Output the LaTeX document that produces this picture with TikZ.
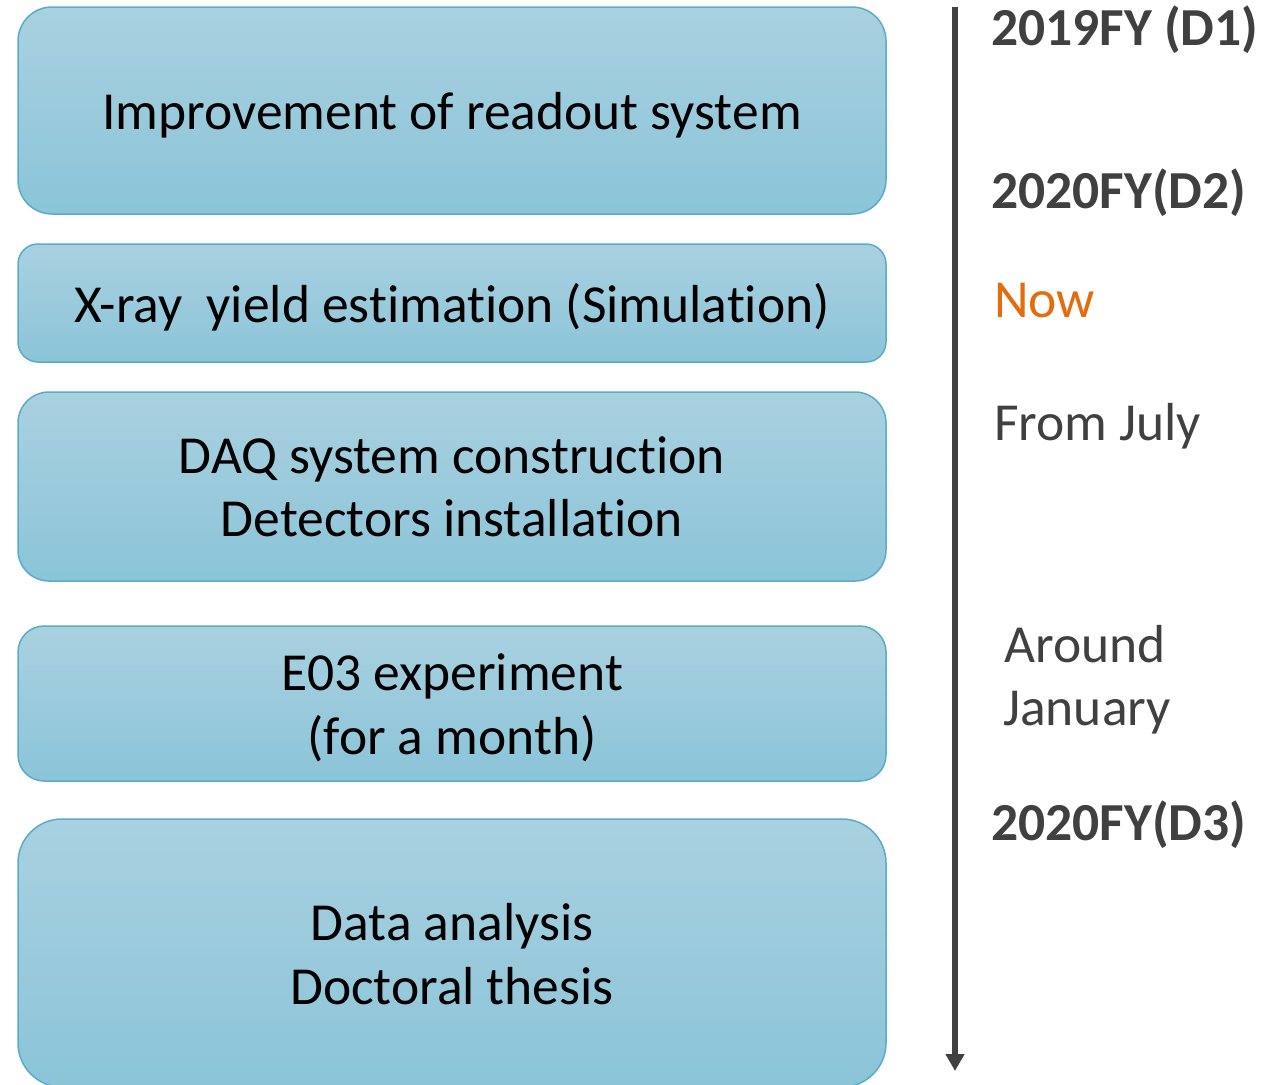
\documentclass[tikz,border=0pt]{standalone}
\usepackage{fontspec}
\setmainfont{Carlito}[Ligatures=NoCommon]
\usetikzlibrary{arrows.meta}
\definecolor{boxtop}{RGB}{169,209,224}
\definecolor{boxbot}{RGB}{139,196,216}
\definecolor{boxline}{RGB}{90,172,202}
\definecolor{tlgray}{RGB}{64,64,64}
\definecolor{nowor}{RGB}{228,108,10}
\begin{document}
\begin{tikzpicture}[x=1pt,y=-1pt,
  stagebox/.style={draw=boxline,line width=1.5pt,top color=boxtop,bottom color=boxbot,inner sep=0pt,outer sep=0pt,anchor=north west},
  boxtext/.style={anchor=base,inner sep=0pt,text=black,font=\fontsize{53.5}{64}\selectfont},
  timetext/.style={anchor=base west,inner sep=0pt,text=tlgray,font=\fontsize{53.5}{64}\selectfont},
  timebold/.style={timetext,font=\fontsize{53.5}{64}\selectfont\bfseries}]
\useasboundingbox (0,0) rectangle (1281,1084);
\clip (0,0) rectangle (1281,1084);
% boxes
\node[stagebox,rounded corners=34pt,minimum width=868pt,minimum height=207pt] (b1) at (18,7) {};
\node[stagebox,rounded corners=20pt,minimum width=868pt,minimum height=118pt] (b2) at (18,244) {};
\node[stagebox,rounded corners=31pt,minimum width=868pt,minimum height=189pt] (b3) at (18,392) {};
\node[stagebox,rounded corners=26pt,minimum width=868pt,minimum height=155pt] (b4) at (18,626) {};
\node[stagebox,rounded corners=44pt,minimum width=868pt,minimum height=268pt] (b5) at (18,819) {};
% box texts
\node[boxtext] (t1) at (452,129) {Improvement of readout system};
\node[boxtext] (t2) at (452,322) {X-ray\ \ yield estimation (Simulation)};
\node[boxtext] (t3a) at (452,473) {DAQ system construction};
\node[boxtext] (t3b) at (452,536) {Detectors installation};
\node[boxtext] (t4a) at (452,690) {E03 experiment};
\node[boxtext] (t4b) at (452,754) {(for a month)};
\node[boxtext] (t5a) at (452,940) {Data analysis};
\node[boxtext] (t5b) at (452,1004) {Doctoral thesis};
% timeline
\coordinate (tstart) at (955,7);
\coordinate (tend) at (955,1071);
\draw[tlgray,line width=5.5pt,-{Triangle[length=17pt,width=18pt]}] (tstart) -- (tend);
% time labels
\node[timebold] (d1) at (991,45) {2019FY (D1)};
\node[timebold] (d2) at (991,208) {2020FY(D2)};
\node[timetext,text=nowor] (now) at (994,317) {Now};
\node[timetext] (july) at (994,440) {From July};
\node[timetext] (jan1) at (1004,662) {Around};
\node[timetext] (jan2) at (1003,725) {January};
\node[timebold] (d3) at (991,840) {2020FY(D3)};
\end{tikzpicture}
\end{document}
